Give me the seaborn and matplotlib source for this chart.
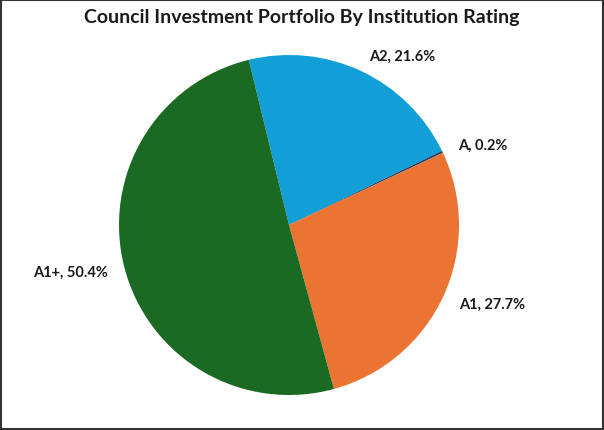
import matplotlib
matplotlib.use("Agg")
import matplotlib.pyplot as plt
import seaborn as sns

categories = ["A2", "A", "A1", "A1+"]
shares = [21.6, 0.2, 27.7, 50.4]
colors = ["#129FD7", "#1F3F68", "#EC7433", "#1B6A24"]

sns.set_theme(style="white", font="Lato")
fig = plt.figure(figsize=(6.04, 4.31), dpi=100)
W, H = 604, 431
cx, cy, r = 289, 226, 170
ax = fig.add_axes([(cx - r) / W, (H - cy - r) / H, 2 * r / W, 2 * r / H])
labels = [f"{c}, {v}%" for c, v in zip(categories, shares)]
wedges, texts = ax.pie(shares, colors=colors, startangle=103.7, counterclock=False,
                       labels=labels, labeldistance=1.1,
                       wedgeprops=dict(linewidth=0),
                       textprops=dict(fontsize=10.5, fontweight="bold", color="#1a1a1a"))
ax.set_xlim(-1, 1)
ax.set_ylim(-1, 1)
ax.set_aspect("equal")
fig.text(0.5, 1 - 17 / H, "Council Investment Portfolio By Institution Rating",
         ha="center", va="center", fontsize=14, fontweight="bold", color="#1a1a1a")
fig.patches.append(plt.Rectangle((0.002, 0.002), 0.996, 0.996, transform=fig.transFigure,
                                 fill=False, edgecolor="#333333", linewidth=1.5))
fig.savefig("out.png", dpi=100)
